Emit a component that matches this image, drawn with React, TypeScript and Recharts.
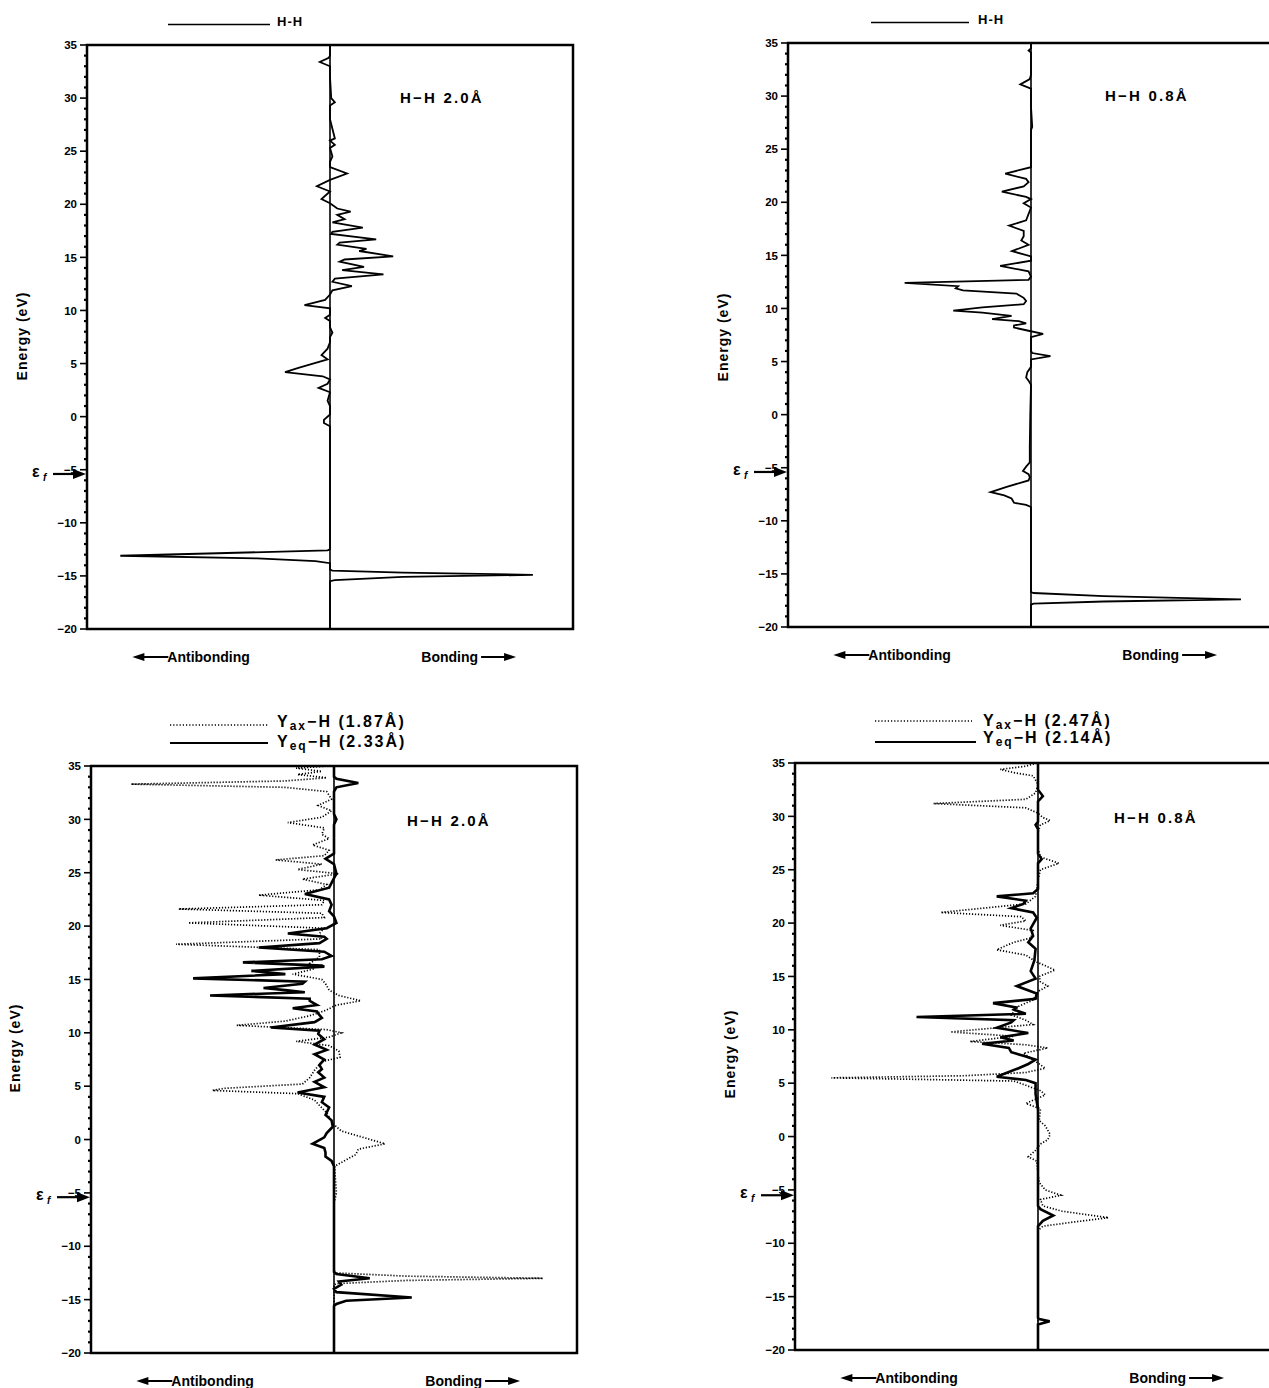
import React from "react";
import { LineChart, Line, XAxis, YAxis, ReferenceLine, ReferenceArea, ReferenceDot } from "recharts";

const FONT = '"Liberation Sans", Arial, sans-serif';

// Energy axis (eV): a tick every 1 eV, a label every 5 eV
const energyTicks = [
  35, 34, 33, 32, 31, 30, 29, 28, 27, 26, 25, 24, 23, 22, 21, 20, 19, 18, 17, 16, 15, 14, 13, 12, 11, 10, 9, 8,
  7, 6, 5, 4, 3, 2, 1, 0, -1, -2, -3, -4, -5, -6, -7, -8, -9, -10, -11, -12, -13, -14, -15, -16, -17, -18, -19, -20,
];
const majorTicks = [35, 30, 25, 20, 15, 10, 5, 0, -5, -10, -15, -20];

// bottom labels, placed at these COOP positions
const sideTicks = [-0.55, 0.56];
const sideLabels = ["Antibonding", "Bonding"];

// Fermi level (eV) per panel
const efLevels = [-5.4, -5.4, -5.4, -5.5];

// COOP curves as [energy eV, COOP] (arbitrary units, antibonding < 0 < bonding)
const hh20 = [
  [35, 0], [34, 0], [33.8, -0.005], [33.4, -0.042], [33.0, 0], [32, 0], [30, 0.005], [29.6, 0.02], [29.3, 0],
  [28, 0], [26.2, 0.02], [26, 0], [25.6, 0.02], [25.3, 0], [24.5, 0.01], [24, 0], [23.5, 0], [22.9, 0.07],
  [22.3, 0], [21.7, -0.054], [21.2, 0], [20.5, -0.035], [20.1, 0], [19.6, 0.03], [19.3, 0.085], [19.0, 0.03],
  [18.6, 0.06], [18.3, 0.01], [17.8, 0.135], [17.4, 0.01], [17.2, 0.005], [16.7, 0.19], [16.4, 0.04],
  [16.2, 0.03], [15.8, 0.15], [15.6, 0.12], [15.1, 0.26], [14.8, 0.06], [14.6, 0.04], [14.1, 0.14],
  [13.8, 0.05], [13.4, 0.22], [13.0, 0.02], [12.7, 0.01], [12.3, 0.09], [11.9, 0.01], [11.5, 0], [11.0, -0.02],
  [10.5, -0.105], [10.2, 0], [9.6, 0], [9.3, -0.02], [9.0, 0], [8.4, 0], [7.9, 0.01], [7.5, 0], [7, 0],
  [6.4, -0.01], [5.8, -0.035], [5.4, -0.01], [5.0, -0.07], [4.6, -0.13], [4.2, -0.185], [3.8, -0.03], [3.5, 0],
  [3.1, -0.01], [2.7, -0.047], [2.3, 0], [1.5, -0.01], [1.0, 0], [0.2, 0], [-0.3, -0.025], [-0.6, -0.025],
  [-0.9, 0], [-2, 0], [-12.5, 0], [-12.6, -0.01], [-13.1, -0.863], [-13.35, -0.3], [-13.6, -0.06], [-13.8, 0],
  [-14.4, 0], [-14.5, 0.01], [-14.7, 0.3], [-14.9, 0.835], [-15.1, 0.3], [-15.4, 0.02], [-15.5, 0], [-20, 0],
];

const hh08 = [
  [35, 0], [34.5, 0], [34.3, -0.01], [34.1, 0], [32, 0], [31.6, -0.005], [31.1, -0.044], [30.7, 0], [29, 0],
  [27.1, 0.005], [26.8, 0], [25, 0], [23.3, 0], [22.7, -0.106], [22.2, -0.02], [21.9, -0.01], [21.5, -0.03],
  [21.0, -0.12], [20.5, -0.02], [20.3, 0], [19.9, -0.03], [19.5, 0], [18.3, -0.02], [17.8, -0.09], [17.3, -0.03],
  [16.8, -0.03], [16.4, -0.04], [16.0, -0.01], [15.4, -0.078], [14.9, 0], [14.5, 0], [14.0, -0.127],
  [13.5, -0.01], [13.0, 0], [12.7, -0.01], [12.4, -0.52], [12.1, -0.3], [11.9, -0.31], [11.7, -0.28],
  [11.4, -0.06], [11.0, -0.03], [10.7, -0.02], [10.4, -0.03], [10.1, -0.2], [9.8, -0.32], [9.6, -0.2],
  [9.3, -0.08], [9.0, -0.16], [8.8, -0.05], [8.6, -0.02], [8.4, -0.07], [8.2, -0.07], [7.9, -0.01],
  [7.6, 0.05], [7.3, 0], [6.0, 0], [5.8, 0.005], [5.5, 0.08], [5.2, 0], [4.5, 0], [4.0, -0.015], [3.5, -0.02],
  [3.2, -0.01], [2.8, 0], [0, -0.003], [-3, -0.005], [-4.5, -0.005], [-4.9, -0.02], [-5.3, -0.033],
  [-5.6, -0.01], [-5.9, -0.005], [-6.2, -0.01], [-6.8, -0.1], [-7.3, -0.166], [-7.6, -0.11], [-7.9, -0.08],
  [-8.3, -0.07], [-8.5, -0.02], [-8.7, 0], [-16.7, 0], [-16.8, 0.01], [-17.1, 0.3], [-17.4, 0.864],
  [-17.6, 0.3], [-17.8, 0.01], [-17.9, 0], [-20, 0],
];

const yax187 = [
  [35, -0.02], [34.8, -0.156], [34.5, -0.05], [34.2, -0.15], [33.9, -0.03], [33.6, -0.2], [33.3, -0.835],
  [33.0, -0.2], [32.6, -0.03], [31.9, -0.01], [31.3, -0.065], [30.8, -0.01], [30.2, -0.05], [29.7, -0.19],
  [29.2, -0.04], [28.6, -0.05], [28.2, -0.02], [27.6, -0.088], [27.1, -0.02], [26.6, -0.04], [26.2, -0.24],
  [25.8, -0.05], [25.3, -0.15], [24.9, 0.02], [24.4, -0.13], [23.9, -0.03], [23.4, -0.06], [22.9, -0.31],
  [22.4, -0.04], [22.0, -0.05], [21.6, -0.64], [21.2, -0.05], [20.8, -0.04], [20.3, -0.6], [19.8, -0.04],
  [19.3, -0.06], [18.8, -0.05], [18.3, -0.65], [17.8, -0.06], [17.1, -0.06], [16.5, -0.1], [16.0, -0.08],
  [15.5, -0.17], [15.0, -0.05], [14.6, -0.035], [14.0, -0.02], [13.5, 0.02], [13.0, 0.11], [12.6, 0.01],
  [12.1, -0.035], [11.6, -0.1], [11.1, -0.2], [10.7, -0.4], [10.3, -0.03], [10.0, 0.03], [9.6, -0.02],
  [9.2, -0.155], [8.8, -0.02], [8.3, 0.02], [7.7, 0.025], [7.3, -0.05], [6.5, -0.08], [5.8, -0.1],
  [5.2, -0.13], [4.8, -0.45], [4.6, -0.5], [4.3, -0.15], [3.7, -0.08], [3.2, -0.06], [2.5, -0.03],
  [1.5, -0.005], [0.8, 0.03], [0.2, 0.12], [-0.4, 0.21], [-0.9, 0.1], [-1.4, 0.09], [-1.9, 0.05],
  [-2.5, 0.003], [-3.5, 0.005], [-5, 0.01], [-6, 0], [-12.3, 0], [-12.5, 0.01], [-12.8, 0.3], [-13.0, 0.86],
  [-13.2, 0.3], [-13.5, 0.01], [-13.6, 0], [-20, 0],
];

const yeq233 = [
  [35, 0], [34.0, 0], [33.8, 0.01], [33.4, 0.1], [33.0, 0.01], [32.6, 0], [30.5, 0], [30.0, 0.01], [29.5, 0],
  [26.8, 0], [26.3, -0.035], [25.8, 0], [24.9, 0.01], [24.5, 0], [23.6, -0.02], [23.0, -0.12], [22.5, -0.02],
  [22.0, -0.01], [21.4, -0.02], [20.9, 0], [20.3, 0.01], [19.8, -0.03], [19.3, -0.19], [19.0, -0.04],
  [18.8, -0.03], [18.4, -0.06], [18.0, -0.31], [17.6, -0.04], [17.2, -0.01], [16.9, -0.05], [16.6, -0.375],
  [16.3, -0.05], [16.2, -0.04], [15.8, -0.34], [15.5, -0.2], [15.1, -0.58], [14.8, -0.12], [14.6, -0.13],
  [14.2, -0.29], [14.0, -0.2], [13.8, -0.12], [13.5, -0.51], [13.2, -0.1], [13.0, -0.1], [12.6, -0.07],
  [12.3, -0.17], [12.0, -0.07], [11.8, -0.065], [11.4, -0.05], [11.0, -0.08], [10.5, -0.26], [10.2, -0.06],
  [9.9, -0.065], [9.4, -0.04], [8.9, -0.08], [8.4, -0.03], [8.0, -0.08], [7.5, -0.04], [7.0, -0.06],
  [6.6, -0.05], [6.3, -0.065], [5.8, -0.04], [5.4, -0.08], [4.9, -0.04], [4.4, -0.15], [4.0, -0.04],
  [3.5, -0.05], [3.0, -0.02], [2.3, -0.035], [1.8, -0.01], [1.2, -0.005], [0.6, -0.03], [0.2, -0.04],
  [-0.4, -0.088], [-0.8, -0.04], [-1.2, -0.035], [-1.6, -0.035], [-2.0, -0.01], [-2.5, 0], [-12.4, 0],
  [-12.6, 0.01], [-13.0, 0.147], [-13.3, 0.02], [-13.6, 0.03], [-14.0, 0], [-14.3, 0.01], [-14.8, 0.32],
  [-15.1, 0.05], [-15.4, 0.01], [-15.6, 0], [-20, 0],
];

const yax247 = [
  [35, -0.005], [34.7, -0.05], [34.4, -0.155], [34.1, -0.1], [33.8, -0.02], [33, 0], [32.2, -0.01],
  [31.6, -0.05], [31.2, -0.43], [30.8, -0.05], [30.3, 0], [29.9, 0.02], [29.6, 0.05], [29.2, 0.01], [28.5, 0],
  [27, 0], [26.2, 0.01], [25.6, 0.086], [25.0, 0.01], [24, 0], [22.5, -0.01], [21.8, -0.05], [21.0, -0.4],
  [20.6, -0.07], [20.2, -0.05], [19.8, -0.155], [19.3, -0.02], [18.6, -0.03], [18.2, -0.1], [17.5, -0.17],
  [17.0, -0.05], [16.4, -0.01], [15.6, 0.07], [15.0, 0.005], [14.5, 0.01], [14.1, 0.04], [13.6, 0],
  [12.8, -0.02], [12.2, -0.08], [11.4, -0.11], [10.9, -0.05], [10.5, -0.02], [9.8, -0.36], [9.4, -0.1],
  [8.9, -0.28], [8.6, -0.05], [8.3, 0.04], [7.8, -0.06], [7.2, -0.02], [6.4, 0.03], [6.0, -0.05], [5.7, -0.3],
  [5.5, -0.85], [5.2, -0.1], [4.8, -0.05], [4.3, 0.01], [3.9, 0.03], [3.5, -0.01], [3.1, -0.05], [2.6, 0.01],
  [1.5, 0.005], [1.0, 0.03], [0.2, 0.05], [-0.3, 0.04], [-0.7, 0.01], [-1.3, -0.01], [-1.9, -0.04],
  [-2.3, -0.005], [-3.5, 0], [-4.3, 0.005], [-5.0, 0.03], [-5.5, 0.094], [-5.9, 0.01], [-6.5, 0.02],
  [-7.0, 0.1], [-7.6, 0.29], [-8.0, 0.15], [-8.4, 0.02], [-8.8, 0], [-20, 0],
];

const yeq214 = [
  [35, 0], [32.5, 0], [31.9, 0.02], [31.4, 0], [29.5, 0], [29.2, -0.01], [28.8, 0], [26.5, 0], [26.0, 0.015],
  [25.6, 0], [23.2, 0], [22.8, -0.02], [22.5, -0.17], [22.1, -0.05], [21.8, -0.06], [21.4, -0.11],
  [21.0, -0.02], [20.5, -0.005], [19.5, -0.03], [18.8, -0.02], [18.2, -0.04], [17.6, -0.01], [16.5, -0.015],
  [15.5, -0.03], [14.8, -0.01], [14.1, -0.087], [13.4, -0.005], [12.9, -0.01], [12.5, -0.185], [12.1, -0.09],
  [11.9, -0.1], [11.5, -0.05], [11.2, -0.5], [10.9, -0.1], [10.7, -0.11], [10.2, -0.17], [9.7, -0.04],
  [9.3, -0.155], [9.0, -0.1], [8.7, -0.23], [8.3, -0.12], [7.9, -0.11], [7.5, -0.05], [7.2, -0.01],
  [6.8, -0.04], [6.4, -0.08], [5.6, -0.17], [5.3, -0.05], [5.0, -0.01], [4.0, -0.01], [2.5, 0], [-6.5, 0],
  [-6.8, 0.01], [-7.4, 0.063], [-7.9, 0.02], [-8.4, 0], [-17, 0], [-17.1, 0.005], [-17.3, 0.048], [-17.6, 0],
  [-20, 0],
];

const rows = (pts: number[][]) => pts.map(([e, v]) => ({ e, v }));

type Series = { key: string; pts: number[][]; width: number; dash?: string };

const YTick = (props: any) => {
  const { x, y, payload } = props;
  const v = payload.value;
  const major = majorTicks.includes(v);
  return (
    <g>
      <line x1={x} x2={x - (major ? 7 : 3)} y1={y} y2={y} stroke="#000" strokeWidth={major ? 1.6 : 2.2} />
      {major && (
        <text x={x - 10} y={y} dy="0.36em" textAnchor="end" fontSize={11.5} fontWeight="bold" fontFamily={FONT} fill="#000">
          {v < 0 ? `\u2212${-v}` : v}
        </text>
      )}
    </g>
  );
};

const XTick = (props: any) => {
  const { x, y, payload } = props;
  const label = sideLabels[sideTicks.indexOf(payload.value)];
  const yy = y + 33;
  if (payload.value < 0) {
    return (
      <g>
        <line x1={x - 56} x2={x - 28} y1={yy - 5} y2={yy - 5} stroke="#000" strokeWidth={2} />
        <polygon points={`${x - 64},${yy - 5} ${x - 52},${yy - 9} ${x - 52},${yy - 1}`} fill="#000" />
        <text x={x - 29} y={yy} fontSize={14} fontWeight="bold" fontFamily={FONT} fill="#000">{label}</text>
      </g>
    );
  }
  return (
    <g>
      <text x={x + 12} y={yy} textAnchor="end" fontSize={14} fontWeight="bold" fontFamily={FONT} fill="#000">{label}</text>
      <line x1={x + 15} x2={x + 40} y1={yy - 5} y2={yy - 5} stroke="#000" strokeWidth={2} />
      <polygon points={`${x + 50},${yy - 5} ${x + 38},${yy - 9} ${x + 38},${yy - 1}`} fill="#000" />
    </g>
  );
};

const EfMarker = ({ cx, cy }: any) => (
  <g>
    <line x1={cx - 34} x2={cx - 10} y1={cy} y2={cy} stroke="#000" strokeWidth={2.2} />
    <polygon points={`${cx - 1},${cy} ${cx - 14},${cy - 5} ${cx - 14},${cy + 5}`} fill="#000" />
    <text x={cx - 55} y={cy + 3} fontSize={16} fontWeight="bold" fontFamily={FONT} fill="#000">ε</text>
    <text x={cx - 44} y={cy + 7} fontSize={10} fontStyle="italic" fontWeight="bold" fontFamily={FONT} fill="#000">f</text>
  </g>
);

const Panel = ({ left, top, plotH, ef, series }: { left: number; top: number; plotH: number; ef: number; series: Series[] }) => {
  const plotW = 486;
  return (
    <div style={{ position: "absolute", left: left - 87, top: top - 15 }}>
      <LineChart
        width={87 + plotW + 5}
        height={15 + plotH + 45}
        layout="vertical"
        margin={{ top: 15, right: 5, left: 47, bottom: 0 }}
      >
        <XAxis
          type="number"
          domain={[-1, 1]}
          allowDataOverflow
          ticks={sideTicks}
          interval={0}
          height={45}
          axisLine={false}
          tickLine={false}
          tickSize={0}
          tickMargin={0}
          tick={<XTick />}
        />
        <YAxis
          type="number"
          dataKey="e"
          domain={[-20, 35]}
          reversed
          allowDataOverflow
          ticks={energyTicks}
          interval={0}
          width={40}
          axisLine={false}
          tickLine={false}
          tickSize={0}
          tickMargin={0}
          tick={<YTick />}
        />
        <ReferenceLine x={0} stroke="#000" strokeWidth={1.6} />
        {series.map((s) => (
          <Line
            key={s.key}
            data={rows(s.pts)}
            dataKey="v"
            type="linear"
            stroke="#000"
            strokeWidth={s.width}
            strokeDasharray={s.dash}
            dot={false}
            activeDot={false}
            isAnimationActive={false}
          />
        ))}
        <ReferenceArea x1={-1} x2={1} y1={-20} y2={35} fill="none" fillOpacity={0} stroke="#000" strokeWidth={2.5} ifOverflow="visible" />
        <ReferenceDot x={-1} y={ef} ifOverflow="visible" shape={(p: any) => <EfMarker cx={p.cx} cy={p.cy} />} />
      </LineChart>
    </div>
  );
};

const txt = { fontFamily: FONT, fontWeight: "bold" as const, fill: "#000" };

const EnergyLabel = ({ cx, cy }: { cx: number; cy: number }) => (
  <text
    x={cx}
    y={cy}
    transform={`rotate(-90 ${cx} ${cy})`}
    textAnchor="middle"
    dominantBaseline="central"
    fontSize={14}
    letterSpacing={1}
    {...txt}
  >
    Energy (eV)
  </text>
);

const App: React.FC = () => {
  return (
    <div style={{ position: "absolute", left: 0, top: 0, width: 1269, height: 1388, overflow: "hidden", background: "#fff" }}>
      <Panel left={87} top={45} plotH={584} ef={efLevels[0]} series={[{ key: "hh20", pts: hh20, width: 1.8 }]} />
      <Panel left={788} top={43} plotH={584} ef={efLevels[1]} series={[{ key: "hh08", pts: hh08, width: 1.8 }]} />
      <Panel
        left={91}
        top={766}
        plotH={587}
        ef={efLevels[2]}
        series={[
          { key: "yax", pts: yax187, width: 1.7, dash: "1.2 1.8" },
          { key: "yeq", pts: yeq233, width: 2.6 },
        ]}
      />
      <Panel
        left={795}
        top={763}
        plotH={587}
        ef={efLevels[3]}
        series={[
          { key: "yax", pts: yax247, width: 1.7, dash: "1.2 1.8" },
          { key: "yeq", pts: yeq214, width: 2.6 },
        ]}
      />

      <svg width={1269} height={1388} style={{ position: "absolute", left: 0, top: 0, pointerEvents: "none" }}>
        {/* legends */}
        <line x1={168} x2={270} y1={24.5} y2={24.5} stroke="#000" strokeWidth={1.4} />
        <text x={277} y={26} fontSize={13} letterSpacing={1} {...txt}>H-H</text>
        <line x1={871} x2={969} y1={22.5} y2={22.5} stroke="#000" strokeWidth={1.4} />
        <text x={978} y={24} fontSize={13} letterSpacing={1} {...txt}>H-H</text>

        <line x1={170} x2={268} y1={725} y2={725} stroke="#000" strokeWidth={1.4} strokeDasharray="1.2 2" />
        <text x={277} y={727} fontSize={16} letterSpacing={2} {...txt}>
          Y<tspan fontSize={12} dy={3}>ax</tspan><tspan dy={-3}>−H (1.87Å)</tspan>
        </text>
        <line x1={170} x2={268} y1={743} y2={743} stroke="#000" strokeWidth={2.2} />
        <text x={277} y={747} fontSize={16} letterSpacing={2} {...txt}>
          Y<tspan fontSize={12} dy={3}>eq</tspan><tspan dy={-3}>−H (2.33Å)</tspan>
        </text>

        <line x1={875} x2={972} y1={721} y2={721} stroke="#000" strokeWidth={1.4} strokeDasharray="1.2 2" />
        <text x={983} y={726} fontSize={16} letterSpacing={2} {...txt}>
          Y<tspan fontSize={12} dy={3}>ax</tspan><tspan dy={-3}>−H (2.47Å)</tspan>
        </text>
        <line x1={875} x2={976} y1={742} y2={742} stroke="#000" strokeWidth={2.2} />
        <text x={983} y={743} fontSize={16} letterSpacing={2} {...txt}>
          Y<tspan fontSize={12} dy={3}>eq</tspan><tspan dy={-3}>−H (2.14Å)</tspan>
        </text>

        {/* panel annotations */}
        <text x={400} y={103} fontSize={15} letterSpacing={2.2} {...txt}>H−H  2.0Å</text>
        <text x={1105} y={101} fontSize={15} letterSpacing={2.2} {...txt}>H−H  0.8Å</text>
        <text x={407} y={826} fontSize={15} letterSpacing={2.2} {...txt}>H−H  2.0Å</text>
        <text x={1114} y={823} fontSize={15} letterSpacing={2.2} {...txt}>H−H  0.8Å</text>

        <EnergyLabel cx={22} cy={336} />
        <EnergyLabel cx={723} cy={337} />
        <EnergyLabel cx={15} cy={1048} />
        <EnergyLabel cx={730} cy={1054} />
      </svg>
    </div>
  );
};

export default App;
